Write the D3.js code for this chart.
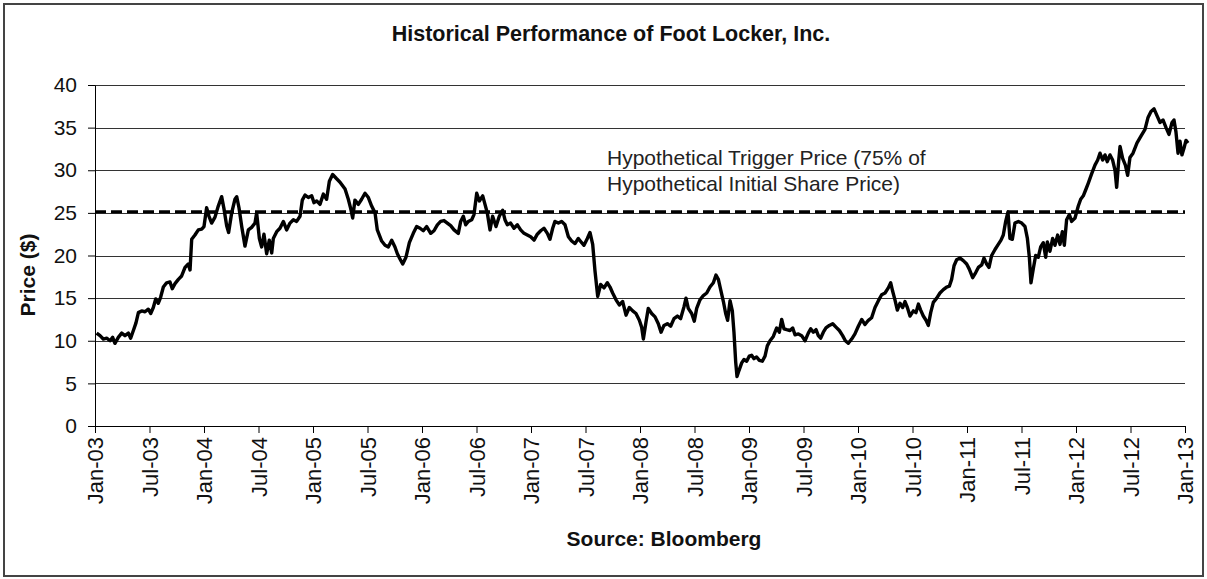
<!DOCTYPE html>
<html>
<head>
<meta charset="utf-8">
<script src="https://cdn.jsdelivr.net/npm/d3@7"></script>
<style>
  body { margin: 0; background: #fff; }
  text { font-family: "Liberation Sans", Arial, sans-serif; }
</style>
</head>
<body>
<script>
// data (decimal years, closing price in $)
var years = [
  2003.015, 2003.046, 2003.076, 2003.107, 2003.138, 2003.162, 2003.183, 2003.214, 2003.245, 2003.275,
  2003.306, 2003.327, 2003.352, 2003.376, 2003.398, 2003.428, 2003.459, 2003.489, 2003.511, 2003.535,
  2003.557, 2003.581, 2003.602, 2003.627, 2003.657, 2003.688, 2003.709, 2003.734, 2003.765, 2003.795,
  2003.826, 2003.856, 2003.872, 2003.887, 2003.917, 2003.948, 2003.979, 2004.000, 2004.024, 2004.046,
  2004.070, 2004.101, 2004.131, 2004.162, 2004.183, 2004.208, 2004.226, 2004.254, 2004.284, 2004.300,
  2004.321, 2004.346, 2004.376, 2004.407, 2004.437, 2004.468, 2004.483, 2004.508, 2004.529, 2004.550,
  2004.575, 2004.599, 2004.621, 2004.636, 2004.667, 2004.697, 2004.728, 2004.758, 2004.789, 2004.820,
  2004.850, 2004.881, 2004.902, 2004.927, 2004.957, 2004.988, 2005.009, 2005.034, 2005.064, 2005.095,
  2005.125, 2005.150, 2005.180, 2005.217, 2005.248, 2005.294, 2005.324, 2005.346, 2005.364, 2005.385,
  2005.416, 2005.446, 2005.477, 2005.508, 2005.538, 2005.569, 2005.590, 2005.630, 2005.661, 2005.691,
  2005.722, 2005.752, 2005.774, 2005.798, 2005.823, 2005.853, 2005.884, 2005.920, 2005.951, 2005.982,
  2006.012, 2006.043, 2006.080, 2006.110, 2006.141, 2006.171, 2006.202, 2006.232, 2006.263, 2006.294,
  2006.333, 2006.355, 2006.379, 2006.401, 2006.425, 2006.456, 2006.477, 2006.502, 2006.526, 2006.557,
  2006.578, 2006.599, 2006.624, 2006.648, 2006.679, 2006.709, 2006.740, 2006.761, 2006.783, 2006.813,
  2006.844, 2006.875, 2006.905, 2006.936, 2006.966, 2006.997, 2007.028, 2007.058, 2007.089, 2007.119,
  2007.150, 2007.174, 2007.199, 2007.220, 2007.251, 2007.281, 2007.312, 2007.343, 2007.373, 2007.404,
  2007.434, 2007.465, 2007.486, 2007.517, 2007.541, 2007.566, 2007.587, 2007.612, 2007.639, 2007.670,
  2007.700, 2007.725, 2007.749, 2007.780, 2007.810, 2007.841, 2007.872, 2007.902, 2007.933, 2007.963,
  2007.994, 2008.015, 2008.031, 2008.055, 2008.076, 2008.107, 2008.138, 2008.168, 2008.193, 2008.220,
  2008.251, 2008.281, 2008.312, 2008.343, 2008.373, 2008.404, 2008.422, 2008.443, 2008.474, 2008.498,
  2008.520, 2008.550, 2008.581, 2008.612, 2008.642, 2008.673, 2008.697, 2008.719, 2008.740, 2008.765,
  2008.786, 2008.804, 2008.826, 2008.847, 2008.862, 2008.878, 2008.890, 2008.908, 2008.933, 2008.954,
  2008.979, 2009.003, 2009.024, 2009.046, 2009.070, 2009.095, 2009.122, 2009.147, 2009.168, 2009.193,
  2009.223, 2009.254, 2009.278, 2009.300, 2009.321, 2009.346, 2009.376, 2009.401, 2009.422, 2009.453,
  2009.483, 2009.514, 2009.544, 2009.566, 2009.590, 2009.615, 2009.636, 2009.657, 2009.682, 2009.706,
  2009.737, 2009.768, 2009.798, 2009.829, 2009.859, 2009.884, 2009.911, 2009.942, 2009.972, 2010.003,
  2010.034, 2010.064, 2010.095, 2010.125, 2010.156, 2010.187, 2010.217, 2010.248, 2010.278, 2010.300,
  2010.318, 2010.339, 2010.361, 2010.385, 2010.410, 2010.431, 2010.453, 2010.477, 2010.508, 2010.532,
  2010.554, 2010.575, 2010.599, 2010.624, 2010.645, 2010.667, 2010.691, 2010.722, 2010.752, 2010.783,
  2010.813, 2010.838, 2010.859, 2010.881, 2010.905, 2010.936, 2010.966, 2010.997, 2011.021, 2011.052,
  2011.080, 2011.104, 2011.135, 2011.156, 2011.180, 2011.202, 2011.226, 2011.257, 2011.287, 2011.312,
  2011.333, 2011.355, 2011.376, 2011.394, 2011.416, 2011.440, 2011.471, 2011.502, 2011.532, 2011.554,
  2011.572, 2011.587, 2011.609, 2011.630, 2011.654, 2011.676, 2011.700, 2011.722, 2011.737, 2011.761,
  2011.786, 2011.807, 2011.832, 2011.853, 2011.875, 2011.893, 2011.914, 2011.939, 2011.960, 2011.991,
  2012.021, 2012.043, 2012.067, 2012.092, 2012.113, 2012.144, 2012.174, 2012.199, 2012.220, 2012.245,
  2012.266, 2012.287, 2012.312, 2012.336, 2012.358, 2012.373, 2012.391, 2012.404, 2012.428, 2012.453,
  2012.474, 2012.495, 2012.523, 2012.560, 2012.596, 2012.633, 2012.661, 2012.688, 2012.716, 2012.743,
  2012.771, 2012.798, 2012.826, 2012.853, 2012.881, 2012.899, 2012.917, 2012.936, 2012.954, 2012.972,
  2012.991, 2013.009, 2013.028
];

var prices = [
  10.9, 10.6, 10.2, 10.3, 10.0, 10.4, 9.7, 10.4, 10.9, 10.6,
  10.9, 10.3, 11.2, 12.1, 13.3, 13.5, 13.4, 13.7, 13.2, 13.9,
  14.9, 14.4, 15.1, 16.3, 16.8, 16.9, 16.1, 16.7, 17.2, 17.6,
  18.6, 19.0, 18.3, 21.9, 22.4, 23.0, 23.1, 23.4, 25.6, 24.6,
  23.8, 24.5, 25.8, 26.9, 25.5, 23.5, 22.7, 25.0, 26.6, 26.9,
  25.6, 23.4, 21.1, 23.0, 23.3, 23.8, 25.0, 22.0, 21.0, 22.5,
  20.2, 21.8, 20.3, 22.0, 22.8, 23.2, 24.0, 23.0, 23.8, 24.2,
  24.0, 24.6, 26.5, 27.1, 26.8, 27.0, 26.2, 26.4, 26.0, 27.2,
  26.6, 28.7, 29.5, 29.0, 28.6, 27.8, 26.6, 25.5, 24.4, 26.5,
  26.0, 26.6, 27.3, 26.8, 25.8, 25.0, 23.0, 21.7, 21.2, 21.0,
  21.8, 21.0, 20.2, 19.6, 19.0, 19.8, 21.5, 22.6, 23.4, 23.2,
  22.9, 23.4, 22.6, 22.9, 23.6, 24.0, 24.1, 23.8, 23.5, 23.0,
  22.6, 24.0, 24.6, 23.6, 24.0, 24.2, 24.8, 27.3, 26.4, 27.0,
  26.0, 25.0, 23.0, 24.6, 23.4, 24.6, 25.3, 24.2, 23.6, 23.8,
  23.2, 23.6, 23.0, 22.6, 22.4, 22.2, 21.8, 22.5, 22.9, 23.2,
  22.6, 21.9, 23.2, 24.0, 23.8, 24.0, 23.6, 22.2, 21.7, 21.4,
  22.0, 21.5, 21.2, 22.0, 22.7, 21.3, 18.2, 15.2, 16.6, 16.2,
  16.8, 16.3, 15.6, 14.8, 14.2, 14.6, 13.0, 13.9, 13.5, 13.2,
  12.4, 11.6, 10.2, 12.2, 13.8, 13.2, 12.8, 12.0, 11.0, 11.8,
  12.0, 11.7, 12.6, 12.9, 12.6, 14.0, 15.0, 13.8, 13.2, 12.3,
  13.8, 14.8, 15.3, 15.6, 16.3, 16.8, 17.7, 17.2, 16.0, 14.6,
  13.2, 12.4, 14.7, 13.5, 11.0, 7.5, 5.8, 6.5, 7.4, 7.8,
  7.6, 8.2, 8.3, 7.9, 8.1, 7.7, 7.6, 8.2, 9.4, 10.0,
  10.5, 11.5, 11.0, 12.5, 11.4, 11.3, 11.2, 11.5, 10.7, 10.8,
  10.6, 10.0, 10.9, 11.4, 11.0, 11.3, 10.6, 10.3, 11.0, 11.5,
  11.8, 12.0, 11.6, 11.2, 10.6, 10.0, 9.7, 10.2, 10.8, 11.7,
  12.5, 11.9, 12.4, 12.7, 13.9, 14.7, 15.4, 15.6, 16.2, 16.8,
  15.8, 14.8, 13.6, 14.4, 13.9, 14.6, 13.9, 12.9, 13.5, 13.3,
  14.3, 13.6, 12.9, 12.4, 11.8, 13.3, 14.5, 15.0, 15.6, 16.0,
  16.3, 16.4, 17.2, 18.8, 19.5, 19.7, 19.4, 19.0, 18.4, 17.4,
  18.0, 18.6, 18.9, 19.7, 19.0, 18.6, 20.0, 20.7, 21.3, 21.8,
  22.4, 24.0, 25.1, 22.0, 21.9, 23.8, 24.0, 23.8, 23.4, 22.0,
  19.8, 16.8, 18.5, 20.0, 19.8, 21.0, 21.5, 19.8, 21.6, 20.5,
  22.0, 21.2, 22.4, 21.3, 22.8, 21.2, 24.2, 24.8, 24.0, 24.4,
  25.8, 26.6, 27.0, 27.8, 28.5, 29.6, 30.6, 31.2, 32.0, 31.2,
  31.8, 31.0, 31.8, 31.2, 30.0, 28.0, 31.0, 32.8, 31.4, 30.6,
  29.4, 31.5, 32.0, 33.2, 34.0, 34.8, 36.2, 36.9, 37.2, 36.4,
  35.6, 35.9, 35.0, 34.2, 35.6, 35.9, 34.5, 32.0, 33.4, 31.8,
  32.6, 33.5, 33.2
];

var triggerPrice = 25.14;

var yTicks = [0, 5, 10, 15, 20, 25, 30, 35, 40];

var xTickValues = [2003, 2003.5, 2004, 2004.5, 2005, 2005.5, 2006, 2006.5, 2007, 2007.5,
  2008, 2008.5, 2009, 2009.5, 2010, 2010.5, 2011, 2011.5, 2012, 2012.5, 2013];
var xTickLabels = ["Jan-03", "Jul-03", "Jan-04", "Jul-04", "Jan-05", "Jul-05", "Jan-06", "Jul-06",
  "Jan-07", "Jul-07", "Jan-08", "Jul-08", "Jan-09", "Jul-09", "Jan-10", "Jul-10", "Jan-11",
  "Jul-11", "Jan-12", "Jul-12", "Jan-13"];

var priceData = years.map(function(yr, i) {
    return { year: yr, price: prices[i] };
});

// svg params
var svgWidth = 1207;
var svgHeight = 579;

var margin = { top: 85, right: 22, bottom: 153, left: 95 };
var chartwidth = svgWidth - margin.left - margin.right;
var chartheight = svgHeight - margin.top - margin.bottom;

var svg = d3.select("body")
    .append("svg")
    .attr("width", svgWidth)
    .attr("height", svgHeight);

// outer frame
svg.append("rect")
    .attr("x", 4)
    .attr("y", 4)
    .attr("width", 1199)
    .attr("height", 572)
    .attr("fill", "#fff")
    .attr("stroke", "#444")
    .attr("stroke-width", 2);

var chartGroup = svg.append("g")
    .attr("transform", `translate(${margin.left}, ${margin.top})`);

var xScale = d3.scaleLinear()
    .domain([2003, 2013])
    .range([0, chartwidth]);

var yScale = d3.scaleLinear()
    .domain([0, 40])
    .range([chartheight, 0]);

// gridlines
chartGroup.append("g")
    .selectAll("line")
    .data(yTicks.slice(1))
    .enter()
    .append("line")
    .attr("x1", 0)
    .attr("x2", chartwidth)
    .attr("y1", d => Math.round(yScale(d)) + 0.5)
    .attr("y2", d => Math.round(yScale(d)) + 0.5)
    .attr("stroke", "#333")
    .attr("stroke-width", 1);

// trigger price line
chartGroup.append("line")
    .attr("x1", xScale(2003))
    .attr("x2", xScale(2013))
    .attr("y1", yScale(triggerPrice))
    .attr("y2", yScale(triggerPrice))
    .attr("stroke", "#000")
    .attr("stroke-width", 3)
    .attr("stroke-dasharray", "11,5");

// price line
var line = d3.line()
    .x(d => xScale(d.year))
    .y(d => yScale(d.price));

chartGroup.append("path")
    .datum(priceData)
    .attr("d", line)
    .attr("fill", "none")
    .attr("stroke", "#000")
    .attr("stroke-width", 3.4)
    .attr("stroke-linejoin", "round");

// axes
var bottomAxis = d3.axisBottom(xScale)
    .tickValues(xTickValues)
    .tickFormat((d, i) => xTickLabels[i])
    .tickSize(7)
    .tickSizeOuter(0);

var leftAxis = d3.axisLeft(yScale)
    .tickValues(yTicks)
    .tickSize(7)
    .tickPadding(11)
    .tickSizeOuter(0);

var xAxisG = chartGroup.append("g")
    .attr("transform", `translate(0, ${chartheight})`)
    .call(bottomAxis);

var yAxisG = chartGroup.append("g")
    .call(leftAxis);

[xAxisG, yAxisG].forEach(function(g) {
    g.attr("font-family", "Liberation Sans, Arial, sans-serif")
     .attr("font-size", 21);
    g.selectAll("path, line").attr("stroke", "#000");
    g.selectAll("text").attr("fill", "#111");
});

xAxisG.attr("font-size", 22);
xAxisG.selectAll("text")
    .attr("transform", "rotate(-90)")
    .attr("text-anchor", "end")
    .attr("x", -11)
    .attr("y", 0)
    .attr("dy", "0.35em");

// title
svg.append("text")
    .attr("x", 611)
    .attr("y", 41)
    .attr("text-anchor", "middle")
    .attr("font-size", "21.5px")
    .attr("font-weight", "bold")
    .attr("fill", "#111")
    .text("Historical Performance of Foot Locker, Inc.");

// annotation
var note = svg.append("text")
    .attr("font-size", "21px")
    .attr("fill", "#222");
note.append("tspan").attr("x", 607).attr("y", 165).text("Hypothetical Trigger Price (75% of");
note.append("tspan").attr("x", 607).attr("y", 191).text("Hypothetical Initial Share Price)");

// y axis label
svg.append("text")
    .attr("transform", "translate(35, 275) rotate(-90)")
    .attr("text-anchor", "middle")
    .attr("font-size", "21px")
    .attr("font-weight", "bold")
    .attr("fill", "#111")
    .text("Price ($)");

// source
svg.append("text")
    .attr("x", 664)
    .attr("y", 546)
    .attr("text-anchor", "middle")
    .attr("font-size", "21px")
    .attr("font-weight", "bold")
    .attr("fill", "#111")
    .text("Source: Bloomberg");
</script>
</body>
</html>
